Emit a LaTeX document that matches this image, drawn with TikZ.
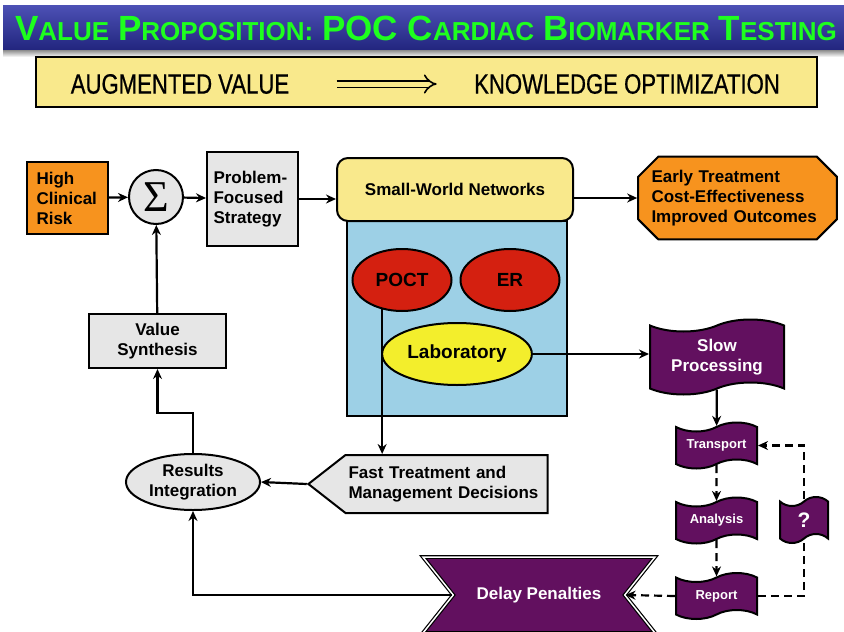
\documentclass[tikz,border=0pt]{standalone}
\usepackage{fontspec}
\setmainfont{Liberation Sans}
\newfontfamily\narrowfont[FakeStretch=0.79, FakeBold=0.6]{Liberation Sans}
\newfontfamily\sumfont{Liberation Serif}
\usetikzlibrary{shapes.geometric,shapes.symbols,shapes.misc,arrows.meta}

\definecolor{ttlblue}{HTML}{2D32A8}
\definecolor{ttlgreen}{HTML}{1EFF1E}
\definecolor{banyel}{HTML}{F9E98C}
\definecolor{boxgray}{HTML}{E6E6E6}
\definecolor{riskorg}{HTML}{F7931E}
\definecolor{netblue}{HTML}{9DD0E6}
\definecolor{hubred}{HTML}{D42010}
\definecolor{labyel}{HTML}{F3EE2C}
\definecolor{slowpur}{HTML}{62105F}

\newcommand\lbl{\fontsize{17}{20}\selectfont\bfseries}
\newcommand\Tbig[1]{{\fontsize{35}{35}\selectfont #1}}
\newcommand\Tsml[1]{{\fontsize{26}{26}\selectfont #1}}

\pgfdeclarelayer{bg}
\pgfsetlayers{bg,main}

\tikzset{
    every node/.style={font=\lbl},
    graybox/.style={draw, fill=boxgray, line width=2pt, align=left},
    hub/.style={draw, ellipse, line width=2pt, minimum width=99pt, minimum height=62pt, fill=hubred},
    flag/.style={draw, tape, fill=slowpur, text=white, line width=2pt, inner sep=0pt},
    smallflag/.style={flag, tape bend height=9pt, minimum width=81pt, minimum height=46pt, font=\fontsize{13}{15}\selectfont\bfseries},
    bantext/.style={font=\narrowfont\fontsize{28}{28}\selectfont},
    link/.style={->, line width=2.2pt},
    dashlink/.style={->, dashed, dash pattern=on 8pt off 5pt, line width=2.2pt}
}

\begin{document}
\begin{tikzpicture}[x=1pt, y=-1pt, >={Stealth[length=10pt,width=9pt]}]
    \useasboundingbox (0,0) rectangle (844,632);

    % Titulo
    \shade[top color=ttlblue!85!white, bottom color=ttlblue!75!black] (3,5) rectangle (844,50);
    \shade[top color=black!45, bottom color=white] (3,50) rectangle (844,57);
    \node[text=ttlgreen, font=\fontsize{32}{32}\selectfont\bfseries] (ttl) at (426,28)
        {\Tbig{V}\Tsml{ALUE} \Tbig{P}\Tsml{ROPOSITION:} \Tbig{POC C}\Tsml{ARDIAC} \Tbig{B}\Tsml{IOMARKER} \Tbig{T}\Tsml{ESTING}};

    % Faixa amarela
    \node[draw, fill=banyel, line width=2.5pt, minimum width=781pt, minimum height=50pt] (band) at (426.5,82) {};
    \node[bantext] (aug) at (180,84) {AUGMENTED VALUE};
    \node[bantext] (know) at (627,84) {KNOWLEDGE OPTIMIZATION};
    \draw[double=banyel, double distance=5pt, line width=1.6pt, -{Implies}, shorten <=44pt, shorten >=34pt] (aug.east) -- (know.west);

    % Linha principal
    \node[draw, fill=riskorg, line width=2pt, minimum width=81pt, minimum height=72pt, text width=62pt, align=left] (risk) at (67.5,198) {High\\Clinical\\Risk};
    \node[draw, circle, fill=boxgray, line width=2pt, minimum size=54pt, inner sep=0pt, font=\sumfont\fontsize{44}{44}\selectfont] (sum) at (156,197) {Σ};
    \node[graybox, minimum width=91pt, minimum height=94pt, text width=78pt] (pfs) at (252.5,199) {Problem-\\Focused\\Strategy};

    % Redes
    \node[draw, fill=netblue, line width=2pt, minimum width=220pt, minimum height=195pt] (net) at (457,318.5) {};
    \node[draw, fill=banyel, rounded corners=11pt, line width=2pt, minimum width=236pt, minimum height=63pt] (sw) at (455,189.5) {Small-World Networks};
    \node[hub, font=\fontsize{19}{20}\selectfont\bfseries] (poct) at (402,280) {POCT};
    \node[hub, font=\fontsize{19}{20}\selectfont\bfseries] (er) at (510,280) {ER};
    \node[hub, fill=labyel, minimum width=122pt, font=\fontsize{19}{20}\selectfont\bfseries] (lab) at (457,354) {Laboratory};

    \node[draw, chamfered rectangle, chamfered rectangle xsep=10pt, chamfered rectangle ysep=10pt, fill=riskorg, line width=2pt, minimum width=195pt, minimum height=82pt, text width=172pt, align=left] (gain) at (737.5,198) {Early Treatment\\Cost-Effectiveness\\Improved Outcomes};

    % Caminho lento
    \node[flag, tape bend height=12pt, minimum width=134pt, minimum height=75pt, align=center] (slow) at (717,357) {Slow\\Processing};
    \node[smallflag] (trans) at (716.5,445.5) {Transport};
    \node[smallflag] (anal) at (716.5,520.5) {Analysis};
    \node[smallflag] (rep) at (716.5,596) {Report};
    \node[flag, tape bend height=9pt, minimum width=48pt, minimum height=46pt, font=\fontsize{21}{21}\selectfont\bfseries] (ask) at (804,520) {?};
    \node[signal, signal from=west and east, signal to=nowhere, signal pointer angle=103, draw=black, double=white, double distance=1.5pt, line width=1.2pt, fill=slowpur, text=white, minimum width=232pt, minimum height=76pt] (delay) at (539,595) {Delay Penalties};

    % Caminho rapido
    \node[signal, signal to=west, signal from=nowhere, signal pointer angle=76, graybox, minimum height=58pt, text width=196pt, inner sep=3pt] (fast) at (446.5,484) {Fast Treatment and\\Management Decisions};
    \node[graybox, ellipse, minimum width=134pt, minimum height=56pt, align=center, inner sep=0pt] (rint) at (193,482) {Results\\Integration};
    \node[graybox, minimum width=137pt, minimum height=54pt, align=center] (vsyn) at (157.5,341) {Value\\Synthesis};

    % Setas
    \draw[link] (risk) -- (sum);
    \draw[link] (sum) -- (pfs);
    \draw[link] (pfs.east) -- (pfs.east -| sw.west);
    \draw[link] (gain.west -| sw.east) -- (gain.west);
    \draw[link] (vsyn) -- (sum);
    \draw[link] (rint.north) -- ++(0,-40) -| (vsyn.south);
    \draw[link] (fast.west) -- (rint.east);
    \draw[link] (poct.236) -- (poct.236 |- fast.north);
    \draw[link] (lab.east) -- (lab.east -| slow.west);
    \draw[link] (slow) -- (trans);
    \draw[dashlink] (trans) -- (anal);
    \draw[dashlink] (anal) -- (rep);
    \begin{pgfonlayer}{bg}
        \draw[dashlink] (rep.east) -| (ask.center) |- (trans.east);
    \end{pgfonlayer}
    \draw[dashlink] (rep.west) -- (delay.east);
    \draw[link] (delay.west) -| (rint.south);
\end{tikzpicture}
\end{document}
